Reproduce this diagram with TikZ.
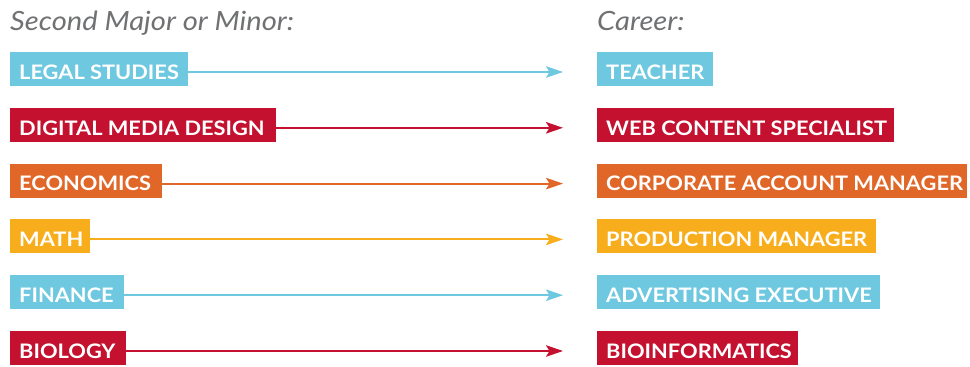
\documentclass[tikz,border=0pt]{standalone}
\usepackage{fontspec}
\setmainfont{Lato}
\newfontfamily\labfont{Lato}[FakeStretch=1.09]
\newfontfamily\headfont{Lato}[FakeStretch=1.1]
\usetikzlibrary{arrows.meta}
\definecolor{cblue}{HTML}{6EC8DF}
\definecolor{cred}{HTML}{C3112F}
\definecolor{corange}{HTML}{E06728}
\definecolor{cyellow}{HTML}{F8AE1C}
\definecolor{cgray}{HTML}{707173}
\newcommand\boxlab[2]{\makebox[\dimexpr#1pt-18pt\relax][l]{#2}}
\begin{document}
\begin{tikzpicture}[x=1pt,y=-1pt,
  lbox/.style={anchor=west, inner xsep=9pt, inner ysep=6.75pt, text height=20.5pt, text depth=0pt,
     text=white, font=\fontsize{20}{20}\labfont\bfseries},
  head/.style={anchor=base west, inner sep=0pt, text=cgray, font=\fontsize{26.5}{26.5}\headfont\itshape},
  arr/.style={line width=2pt, -{Stealth[length=17pt,width=11.5pt,inset=3.5pt]}, shorten >=34pt}]
\useasboundingbox (0,0) rectangle (970,367);
\node[head] (h1) at (10,30) {Second Major or Minor:};
\node[head] (h2) at (597,30) {Career:};
\node[lbox, fill=cblue] (m1) at (10,69) {\boxlab{178}{LEGAL STUDIES}};
\node[lbox, fill=cred] (m2) at (10,124.8) {\boxlab{266}{DIGITAL MEDIA DESIGN}};
\node[lbox, fill=corange] (m3) at (10,180.6) {\boxlab{152}{ECONOMICS}};
\node[lbox, fill=cyellow] (m4) at (10,236.4) {\boxlab{80}{MATH}};
\node[lbox, fill=cblue] (m5) at (10,292.2) {\boxlab{114}{FINANCE}};
\node[lbox, fill=cred] (m6) at (10,348) {\boxlab{116}{BIOLOGY}};
\node[lbox, fill=cblue] (c1) at (597,69) {\boxlab{116}{TEACHER}};
\node[lbox, fill=cred] (c2) at (597,124.8) {\boxlab{297}{WEB CONTENT SPECIALIST}};
\node[lbox, fill=corange] (c3) at (597,180.6) {\boxlab{370}{CORPORATE ACCOUNT MANAGER}};
\node[lbox, fill=cyellow] (c4) at (597,236.4) {\boxlab{279}{PRODUCTION MANAGER}};
\node[lbox, fill=cblue] (c5) at (597,292.2) {\boxlab{283}{ADVERTISING EXECUTIVE}};
\node[lbox, fill=cred] (c6) at (597,348) {\boxlab{201}{BIOINFORMATICS}};
\draw[arr, cblue] ([yshift=-3pt]m1.east) -- ([yshift=-3pt]c1.west);
\draw[arr, cred] ([yshift=-3pt]m2.east) -- ([yshift=-3pt]c2.west);
\draw[arr, corange] ([yshift=-3pt]m3.east) -- ([yshift=-3pt]c3.west);
\draw[arr, cyellow] ([yshift=-3pt]m4.east) -- ([yshift=-3pt]c4.west);
\draw[arr, cblue] ([yshift=-3pt]m5.east) -- ([yshift=-3pt]c5.west);
\draw[arr, cred] ([yshift=-3pt]m6.east) -- ([yshift=-3pt]c6.west);
\end{tikzpicture}
\end{document}
